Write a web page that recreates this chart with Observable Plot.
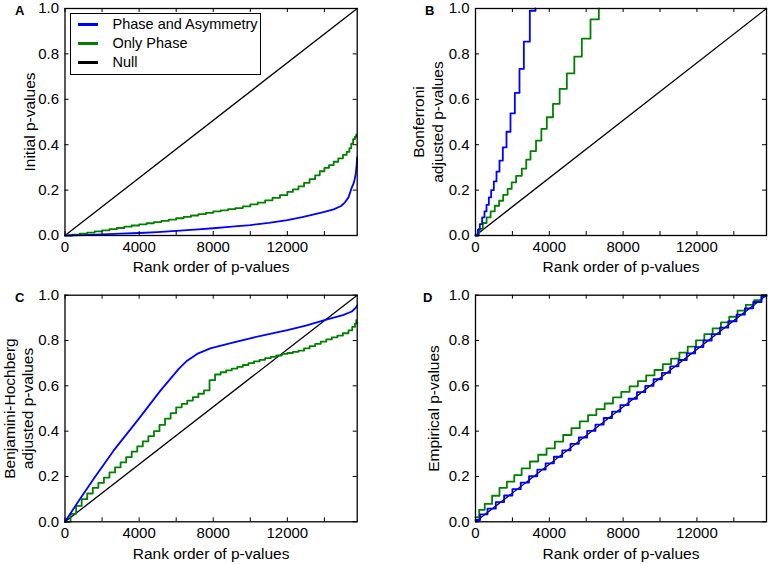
<!DOCTYPE html>
<html><head><meta charset="utf-8">
<script src="https://cdn.jsdelivr.net/npm/d3@7"></script>
<script src="https://cdn.jsdelivr.net/npm/@observablehq/plot@0.6"></script>
<style>
body{margin:0;background:#fff;}
#wrap{position:relative;width:770px;height:564px;font-family:"Liberation Sans",Arial,sans-serif;color:#000;overflow:hidden;}
.panel{position:absolute;}
.plab{position:absolute;font-weight:bold;font-size:13px;line-height:13px;}
#legend{position:absolute;left:70px;top:13px;width:191px;height:62px;border:1px solid #000;background:#fff;box-sizing:border-box;}
.lsw{position:absolute;width:20px;height:3px;}
.ltx{position:absolute;font-size:14.5px;line-height:16px;}
</style>
</head><body>
<div id="wrap"></div>
<script>
// ---------- data ----------
const seriesNames = ["Phase and Asymmetry", "Only Phase", "Null"];
const panelLetters = ["A", "B", "C", "D"];
const yLabels = ["Initial p-values", "Bonferroni\nadjusted p-values", "Benjamini-Hochberg\nadjusted p-values", "Empirical p-values"];
const xLabel = "Rank order of p-values";
const xMax = 15770;
const xTicks = [0, 2000, 4000, 6000, 8000, 10000, 12000, 14000];
const xTickLabels = [0, 4000, 8000, 12000];
const yTicks = [0, 0.2, 0.4, 0.6, 0.8, 1.0];

const nullX = [0, 15770];
const nullY = [0, 1];

// A: initial p-values
const aBlueX = [0, 1000, 2000, 3000, 4000, 5000, 6000, 7000, 8000, 9000, 10000, 11000, 12000, 12800, 13500, 14000, 14500, 14900, 15100, 15300, 15450, 15600, 15700, 15740, 15770];
const aBlueY = [0, 0.002, 0.005, 0.008, 0.011, 0.015, 0.020, 0.026, 0.032, 0.039, 0.046, 0.056, 0.068, 0.081, 0.094, 0.104, 0.115, 0.130, 0.145, 0.168, 0.205, 0.235, 0.275, 0.31, 0.345];
const aGreenX = [0, 400, 800, 1200, 1600, 2000, 2400, 2800, 3200, 3600, 4000, 4400, 4800, 5200, 5600, 6000, 6400, 6800, 7200, 7600, 8000, 8400, 8800, 9200, 9600, 10000, 10400, 10800, 11200, 11600, 12000, 12300, 12600, 12900, 13200, 13500, 13750, 14000, 14250, 14500, 14750, 15000, 15200, 15350, 15450, 15550, 15650, 15720];
const aGreenY = [0, 0.004, 0.008, 0.013, 0.018, 0.023, 0.028, 0.033, 0.039, 0.044, 0.049, 0.054, 0.059, 0.064, 0.070, 0.076, 0.082, 0.088, 0.094, 0.100, 0.106, 0.111, 0.116, 0.121, 0.128, 0.137, 0.145, 0.155, 0.166, 0.178, 0.192, 0.203, 0.216, 0.232, 0.248, 0.265, 0.283, 0.298, 0.310, 0.325, 0.340, 0.355, 0.368, 0.385, 0.405, 0.425, 0.435, 0.445];

// B: Bonferroni (step levels and where each level starts)
const bBlueX = [0, 126, 235, 361, 488, 596, 723, 849, 993, 1138, 1300, 1481, 1680, 1896, 2132, 2384, 2620, 2944, 3251];
const bBlueY = [0, 0.025, 0.050, 0.080, 0.106, 0.135, 0.168, 0.200, 0.238, 0.281, 0.330, 0.388, 0.457, 0.538, 0.628, 0.734, 0.854, 0.990, 1.0];
const bGreenX = [0, 185, 400, 600, 820, 1045, 1280, 1500, 1740, 1960, 2200, 2510, 2750, 2980, 3280, 3570, 3865, 4200, 4560, 4950, 5355, 5762, 6232, 6684];
const bGreenY = [0, 0.029, 0.055, 0.080, 0.106, 0.131, 0.153, 0.179, 0.205, 0.234, 0.263, 0.295, 0.334, 0.372, 0.418, 0.470, 0.521, 0.580, 0.646, 0.714, 0.788, 0.867, 0.952, 1.0];

// C: Benjamini-Hochberg
const cBlueX = [0, 800, 1550, 2630, 3980, 5150, 6140, 6590, 7130, 7840, 9000, 10000, 11000, 12000, 13000, 14100, 15000, 15480, 15700, 15770];
const cBlueY = [0, 0.10, 0.19, 0.315, 0.454, 0.579, 0.675, 0.711, 0.741, 0.765, 0.790, 0.810, 0.828, 0.846, 0.866, 0.892, 0.912, 0.928, 0.945, 0.955];
const cGreenX = [0, 300, 600, 900, 1200, 1500, 1800, 2100, 2400, 2700, 3000, 3300, 3600, 3900, 4200, 4500, 4800, 5100, 5400, 5700, 6000, 6300, 6600, 6900, 7200, 7500, 7800, 8100, 8400, 8700, 9000, 9300, 9600, 9900, 10200, 10500, 10800, 11100, 11400, 11700, 12000, 12300, 12600, 12900, 13200, 13500, 13800, 14100, 14400, 14700, 15000, 15300, 15500, 15650, 15720];
const cGreenY = [0, 0.035, 0.070, 0.100, 0.125, 0.150, 0.172, 0.195, 0.218, 0.240, 0.262, 0.285, 0.310, 0.333, 0.355, 0.378, 0.400, 0.428, 0.455, 0.480, 0.505, 0.520, 0.535, 0.550, 0.565, 0.580, 0.625, 0.650, 0.660, 0.668, 0.676, 0.684, 0.692, 0.700, 0.708, 0.715, 0.722, 0.728, 0.734, 0.741, 0.745, 0.750, 0.755, 0.765, 0.775, 0.785, 0.795, 0.805, 0.814, 0.822, 0.832, 0.845, 0.860, 0.875, 0.890];

// D: empirical p-values
const dBlueX = [0, 250, 650, 1100, 1550, 2000, 2450, 2900, 3350, 3800, 4250, 4700, 5150, 5600, 6050, 6500, 6950, 7400, 7850, 8300, 8750, 9200, 9650, 10100, 10550, 11000, 11450, 11900, 12350, 12800, 13250, 13700, 14150, 14600, 15050, 15500, 15770];
const dBlueY = [0.008, 0.033, 0.058, 0.087, 0.116, 0.144, 0.173, 0.201, 0.230, 0.258, 0.287, 0.315, 0.344, 0.372, 0.401, 0.429, 0.458, 0.486, 0.515, 0.543, 0.572, 0.600, 0.629, 0.657, 0.686, 0.714, 0.743, 0.771, 0.800, 0.828, 0.857, 0.885, 0.914, 0.942, 0.970, 0.995, 1.0];
const dGreenX = [0, 200, 500, 900, 1300, 1700, 2100, 2500, 2950, 3400, 3850, 4300, 4750, 5200, 5650, 6100, 6550, 7000, 7450, 7900, 8350, 8800, 9250, 9700, 10150, 10600, 11050, 11500, 11950, 12400, 12850, 13300, 13750, 14200, 14650, 15100, 15500, 15770];
const dGreenY = [0.02, 0.053, 0.079, 0.115, 0.150, 0.177, 0.206, 0.236, 0.266, 0.296, 0.324, 0.354, 0.383, 0.413, 0.443, 0.471, 0.497, 0.522, 0.549, 0.573, 0.598, 0.621, 0.646, 0.670, 0.696, 0.720, 0.747, 0.773, 0.801, 0.828, 0.854, 0.880, 0.905, 0.932, 0.957, 0.978, 1.0, 1.0];

// ---------- rendering ----------
const BLUE = "#0000ff", GREEN = "#008000", BLACK = "#000000";
const toRows = (xs, ys) => xs.map((x, i) => ({x, y: ys[i]}));

const panels = [
  {left: 0, top: 0, mt: 8, mb: 47, ml: 64.5, mr: 28.3, blue: toRows(aBlueX, aBlueY), green: toRows(aGreenX, aGreenY), blueCurve: "linear", greenCurve: "step-after", ylab: yLabels[0], ydx: -36},
  {left: 385, top: 0, mt: 8, mb: 47, ml: 90, mr: 4, blue: toRows(bBlueX, bBlueY), green: toRows(bGreenX, bGreenY), blueCurve: "step-after", greenCurve: "step-after", ylab: yLabels[1], ydx: -48},
  {left: 0, top: 282, mt: 12.7, mb: 42.7, ml: 64.5, mr: 28.3, blue: toRows(cBlueX, cBlueY), green: toRows(cGreenX, cGreenY), blueCurve: "linear", greenCurve: "step-after", ylab: yLabels[2], ydx: -47},
  {left: 385, top: 282, mt: 12.7, mb: 42.7, ml: 90, mr: 4, blue: toRows(dBlueX, dBlueY), green: toRows(dGreenX, dGreenY), blueCurve: "step-after", greenCurve: "step-after", ylab: yLabels[3], ydx: -42}
];
const labelPos = [[15, 4], [425, 4], [15, 291], [423, 291]];

const wrap = document.getElementById("wrap");
const nullRows = toRows(nullX, nullY);
const TICK_PX = 4;

panels.forEach((p, k) => {
  const pw = 385 - p.ml - p.mr, ph = 282 - p.mt - p.mb;
  const tx = TICK_PX / pw * xMax, ty = TICK_PX / ph;
  const chart = Plot.plot({
    width: 385, height: 282,
    marginTop: p.mt, marginBottom: p.mb, marginLeft: p.ml, marginRight: p.mr,
    style: {fontFamily: '"Liberation Sans", Arial, sans-serif', fontSize: "15px", color: "#000", background: "#fff", overflow: "visible"},
    x: {domain: [0, xMax]},
    y: {domain: [0, 1]},
    marks: [
      Plot.line(nullRows, {x: "x", y: "y", stroke: BLACK, strokeWidth: 1.3}),
      Plot.line(p.green, {x: "x", y: "y", stroke: GREEN, strokeWidth: 1.8, curve: p.greenCurve}),
      Plot.line(p.blue, {x: "x", y: "y", stroke: BLUE, strokeWidth: 1.8, curve: p.blueCurve}),
      // inward ticks on all four sides
      Plot.ruleX(xTicks, {x: d => d, y1: 0, y2: ty, stroke: BLACK, strokeWidth: 1}),
      Plot.ruleX(xTicks, {x: d => d, y1: 1 - ty, y2: 1, stroke: BLACK, strokeWidth: 1}),
      Plot.ruleY(yTicks, {y: d => d, x1: 0, x2: tx, stroke: BLACK, strokeWidth: 1}),
      Plot.ruleY(yTicks, {y: d => d, x1: xMax - tx, x2: xMax, stroke: BLACK, strokeWidth: 1}),
      Plot.frame({stroke: BLACK, strokeWidth: 1.3}),
      Plot.axisX({ticks: xTickLabels, tickSize: 0, tickPadding: 6, tickFormat: d3.format("d"), label: null, anchor: "bottom"}),
      Plot.axisY({ticks: yTicks, tickSize: 0, tickPadding: 6, tickFormat: d3.format(".1f"), label: null, anchor: "left"}),
      Plot.text([xLabel], {frameAnchor: "bottom", text: d => d, dy: 32, textAnchor: "middle", lineAnchor: "middle", fontSize: 15.5}),
      Plot.text([p.ylab], {frameAnchor: "left", text: d => d, rotate: -90, dx: p.ydx, textAnchor: "middle", lineAnchor: "middle", lineHeight: 1.19, fontSize: 15.5})
    ]
  });
  chart.classList.add("panel");
  chart.style.left = p.left + "px";
  chart.style.top = p.top + "px";
  wrap.appendChild(chart);

  const lab = document.createElement("div");
  lab.className = "plab";
  lab.textContent = panelLetters[k];
  lab.style.left = labelPos[k][0] + "px";
  lab.style.top = labelPos[k][1] + "px";
  wrap.appendChild(lab);
});

// legend (panel A)
const legend = document.createElement("div");
legend.id = "legend";
wrap.appendChild(legend);
const legendColors = [BLUE, GREEN, BLACK];
const legendY = [24, 43.3, 62.3];
seriesNames.forEach((name, i) => {
  const sw = document.createElement("div");
  sw.className = "lsw";
  sw.style.background = legendColors[i];
  sw.style.left = "78px";
  sw.style.top = (legendY[i] - 1.5) + "px";
  wrap.appendChild(sw);
  const tx = document.createElement("div");
  tx.className = "ltx";
  tx.textContent = name;
  tx.style.left = "112.5px";
  tx.style.top = (legendY[i] - 8) + "px";
  wrap.appendChild(tx);
});
</script>
</body></html>
